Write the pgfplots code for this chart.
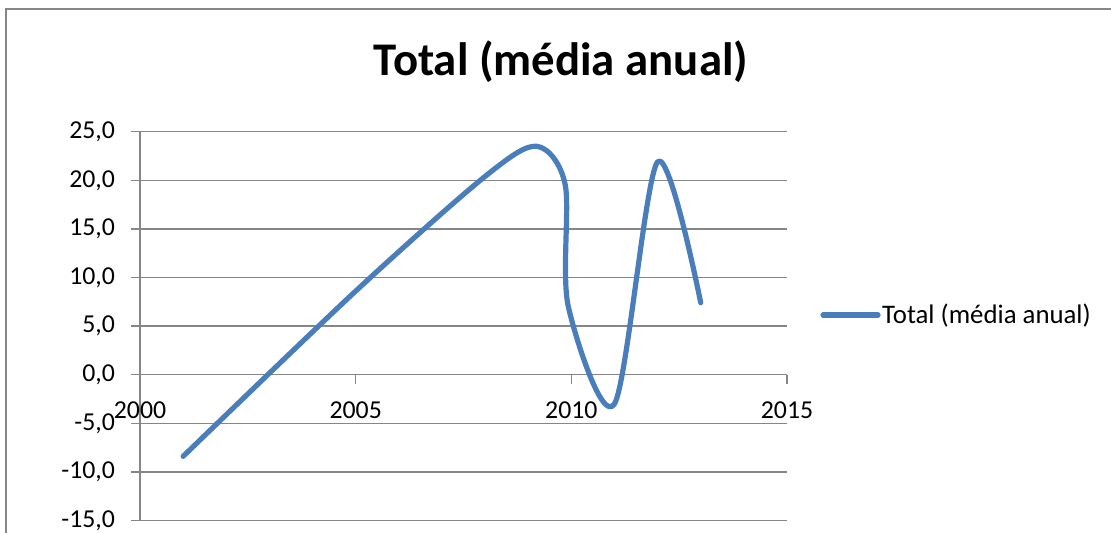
\documentclass[border=0pt]{standalone}
\usepackage{pgfplots}
\pgfplotsset{compat=1.18}
\usepackage{fontspec}
\setmainfont{Carlito}
\definecolor{xlblue}{HTML}{4A7EBB}
\definecolor{xlgray}{HTML}{868686}
\begin{document}
\begin{tikzpicture}
\useasboundingbox (-70pt,-6.25pt) rectangle (485.5pt,260.25pt);
\draw[xlgray, line width=0.75pt] (-67pt,-10pt) -- (-67pt,255.75pt) -- (490pt,255.75pt);
\node[font=\fontsize{23.4}{28}\selectfont\bfseries] at (210.5pt,229.25pt) {Total (média anual)};
\begin{axis}[
  at={(0pt,0pt)}, anchor=south west,
  scale only axis, width=323.5pt, height=194.4pt,
  xmin=2000, xmax=2015, ymin=-15, ymax=25,
  xtick=\empty, ytick={-15,-10,...,25},
  ytick pos=left,
  axis line style={draw=none},
  tick style={xlgray, line width=0.75pt},
  tick align=outside, major tick length=4.5pt,
  /pgf/number format/assume math mode=true,
  ticklabel style={font=\fontsize{12.9}{15}\selectfont, text=black},
  yticklabel style={/pgf/number format/fixed, /pgf/number format/fixed zerofill, /pgf/number format/precision=1, /pgf/number format/use comma, anchor=east, xshift=-4.5pt},
  legend style={at={(1.051,0.5285)}, anchor=west, draw=none, fill=none, inner sep=0pt, font=\fontsize{13.4}{15}\selectfont, nodes={inner xsep=0.8pt}},
  legend cell align=left,
  legend image code/.code={\draw[#1] (0pt,0pt) -- (27.5pt,0pt);},
  clip=false,
]
\pgfplotsinvokeforeach{-15,-10,-5,0,5,10,15,20,25}{
  \draw[xlgray, line width=0.75pt] (axis cs:2000,#1) -- (axis cs:2015,#1);
}
\draw[xlgray, line width=0.75pt] (axis cs:2000,-15) -- (axis cs:2000,25);
\pgfplotsinvokeforeach{2000,2005,2010,2015}{
  \draw[xlgray, line width=0.75pt] (axis cs:#1,0) -- ++(0pt,-4.5pt);
  \node[font=\fontsize{12.9}{15}\selectfont, anchor=center, yshift=-17.75pt] at (axis cs:#1,0) {#1};
}
\addplot[xlblue, line width=2.6pt, smooth, line cap=round, line join=round] coordinates {
  (2001,-8.4) (2005,8.6) (2008,20.4) (2009.2,23.5) (2009.86,19.5) (2009.93,7.0) (2011,-3.0) (2012,21.9) (2013,7.4)
};
\addlegendentry{Total (média anual)}
\end{axis}
\end{tikzpicture}
\end{document}
